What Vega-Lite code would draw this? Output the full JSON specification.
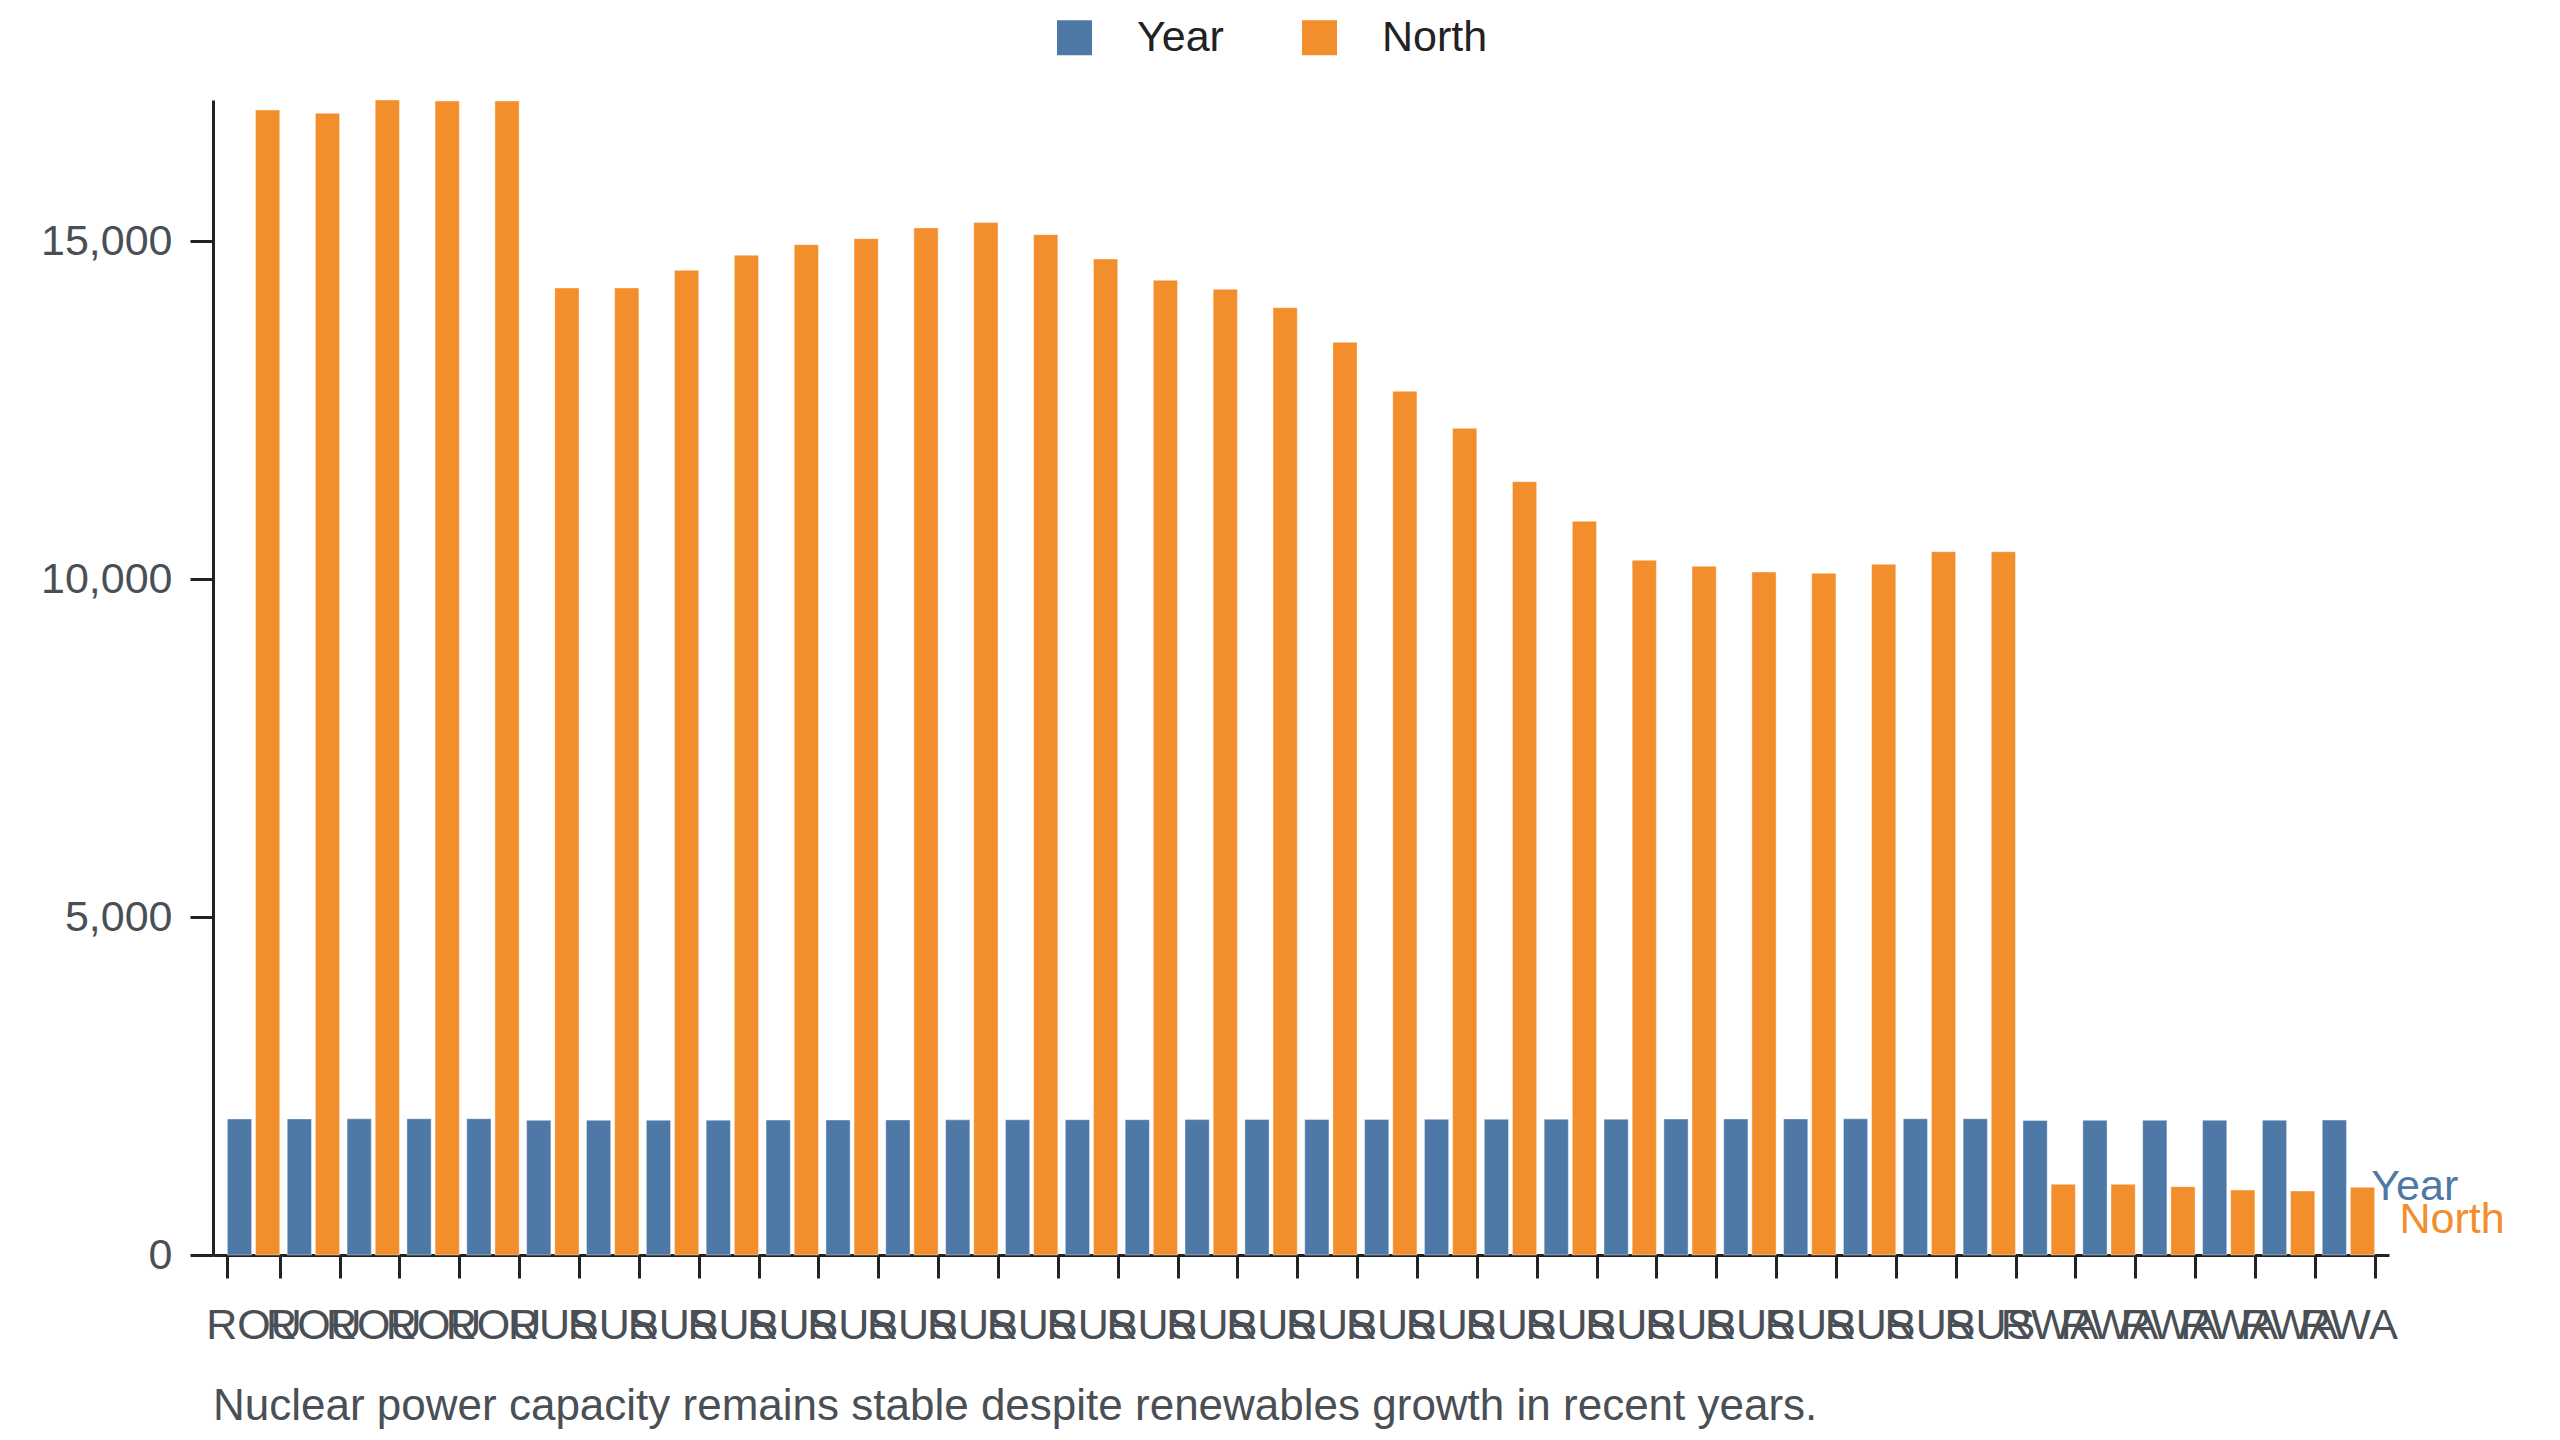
{
  "$schema": "https://vega.github.io/schema/vega-lite/v6.json",
  "width": 2176,
  "height": 1155,
  "autosize": "none",
  "padding": {"left": 213, "top": 100, "right": 171, "bottom": 185},
  "background": "white",
  "config": {
    "view": {"stroke": null},
    "font": "Liberation Sans",
    "axis": {"grid": false}
  },
  "data": {
    "values": [
      {"key": "ROU|2012", "country": "ROU", "Year": 2012, "North": 16938},
      {"key": "ROU|2013", "country": "ROU", "Year": 2013, "North": 16889},
      {"key": "ROU|2014", "country": "ROU", "Year": 2014, "North": 17086},
      {"key": "ROU|2015", "country": "ROU", "Year": 2015, "North": 17071},
      {"key": "ROU|2016", "country": "ROU", "Year": 2016, "North": 17071},
      {"key": "RUS|1992", "country": "RUS", "Year": 1992, "North": 14305},
      {"key": "RUS|1993", "country": "RUS", "Year": 1993, "North": 14305},
      {"key": "RUS|1994", "country": "RUS", "Year": 1994, "North": 14567},
      {"key": "RUS|1995", "country": "RUS", "Year": 1995, "North": 14789},
      {"key": "RUS|1996", "country": "RUS", "Year": 1996, "North": 14946},
      {"key": "RUS|1997", "country": "RUS", "Year": 1997, "North": 15035},
      {"key": "RUS|1998", "country": "RUS", "Year": 1998, "North": 15193},
      {"key": "RUS|1999", "country": "RUS", "Year": 1999, "North": 15272},
      {"key": "RUS|2000", "country": "RUS", "Year": 2000, "North": 15094},
      {"key": "RUS|2001", "country": "RUS", "Year": 2001, "North": 14734},
      {"key": "RUS|2002", "country": "RUS", "Year": 2002, "North": 14418},
      {"key": "RUS|2003", "country": "RUS", "Year": 2003, "North": 14285},
      {"key": "RUS|2004", "country": "RUS", "Year": 2004, "North": 14014},
      {"key": "RUS|2005", "country": "RUS", "Year": 2005, "North": 13501},
      {"key": "RUS|2006", "country": "RUS", "Year": 2006, "North": 12776},
      {"key": "RUS|2007", "country": "RUS", "Year": 2007, "North": 12229},
      {"key": "RUS|2008", "country": "RUS", "Year": 2008, "North": 11440},
      {"key": "RUS|2009", "country": "RUS", "Year": 2009, "North": 10854},
      {"key": "RUS|2010", "country": "RUS", "Year": 2010, "North": 10277},
      {"key": "RUS|2011", "country": "RUS", "Year": 2011, "North": 10188},
      {"key": "RUS|2012", "country": "RUS", "Year": 2012, "North": 10104},
      {"key": "RUS|2013", "country": "RUS", "Year": 2013, "North": 10084},
      {"key": "RUS|2014", "country": "RUS", "Year": 2014, "North": 10218},
      {"key": "RUS|2015", "country": "RUS", "Year": 2015, "North": 10404},
      {"key": "RUS|2016", "country": "RUS", "Year": 2016, "North": 10404},
      {"key": "RWA|1991", "country": "RWA", "Year": 1991, "North": 1045},
      {"key": "RWA|1992", "country": "RWA", "Year": 1992, "North": 1045},
      {"key": "RWA|1993", "country": "RWA", "Year": 1993, "North": 1011},
      {"key": "RWA|1994", "country": "RWA", "Year": 1994, "North": 962},
      {"key": "RWA|1995", "country": "RWA", "Year": 1995, "North": 947},
      {"key": "RWA|1996", "country": "RWA", "Year": 1996, "North": 1001}
    ]
  },
  "transform": [{"fold": ["Year", "North"], "as": ["series", "value"]}],
  "title": {
    "text": "Nuclear power capacity remains stable despite renewables growth in recent years.",
    "orient": "bottom",
    "anchor": "start",
    "frame": "group",
    "fontSize": 44,
    "fontWeight": "normal",
    "color": "#4a4f56",
    "offset": 38
  },
  "encoding": {
    "x": {
      "field": "key",
      "type": "nominal",
      "sort": null,
      "scale": {"paddingInner": 0.125, "paddingOuter": 0.24},
      "axis": {
        "title": null,
        "labelExpr": "datum.value ? split(datum.value, '|')[0] : ''",
        "labelAngle": 0,
        "labelOverlap": false,
        "labelBound": false,
        "tickBand": "extent",
        "labelFontSize": 43,
        "labelColor": "#4a4f56",
        "labelPadding": 26,
        "tickSize": 23,
        "tickWidth": 3,
        "tickColor": "#222222",
        "domainWidth": 3,
        "domainColor": "#222222"
      }
    },
    "xOffset": {"field": "series", "sort": ["Year", "North"], "scale": {"paddingInner": 0.14}},
    "y": {
      "field": "value",
      "type": "quantitative",
      "scale": {"nice": false, "zero": true},
      "axis": {
        "title": null,
        "values": [0, 5000, 10000, 15000],
        "format": ",.0f",
        "labelFontSize": 43,
        "labelColor": "#4a4f56",
        "labelPadding": 18,
        "tickSize": 23,
        "tickWidth": 3,
        "tickColor": "#222222",
        "domainWidth": 3,
        "domainColor": "#222222"
      }
    }
  },
  "layer": [
    {
      "mark": {"type": "bar", "stroke": "#ffffff", "strokeWidth": 1, "strokeOpacity": 0.4},
      "encoding": {
        "color": {
          "field": "series",
          "type": "nominal",
          "scale": {"domain": ["Year", "North"], "range": ["#4e79a7", "#f28e2b"]},
          "legend": {
            "title": null,
            "orient": "none",
            "legendX": 840,
            "legendY": -84,
            "direction": "horizontal",
            "symbolType": "square",
            "symbolSize": 1225,
            "symbolStrokeWidth": 0,
            "labelFontSize": 43,
            "labelColor": "#222222",
            "labelOffset": 41,
            "columnPadding": 74
          }
        }
      }
    },
    {
      "transform": [{"filter": "datum.key === 'RWA|1996' && datum.series === 'Year'"}],
      "mark": {"type": "text", "align": "left", "baseline": "middle", "dx": 37, "dy": 67, "fontSize": 43, "color": "#4e79a7"},
      "encoding": {"text": {"field": "series"}}
    },
    {
      "transform": [{"filter": "datum.key === 'RWA|1996' && datum.series === 'North'"}],
      "mark": {"type": "text", "align": "left", "baseline": "middle", "dx": 37, "dy": 33, "fontSize": 43, "color": "#f28e2b"},
      "encoding": {"text": {"field": "series"}}
    }
  ]
}
